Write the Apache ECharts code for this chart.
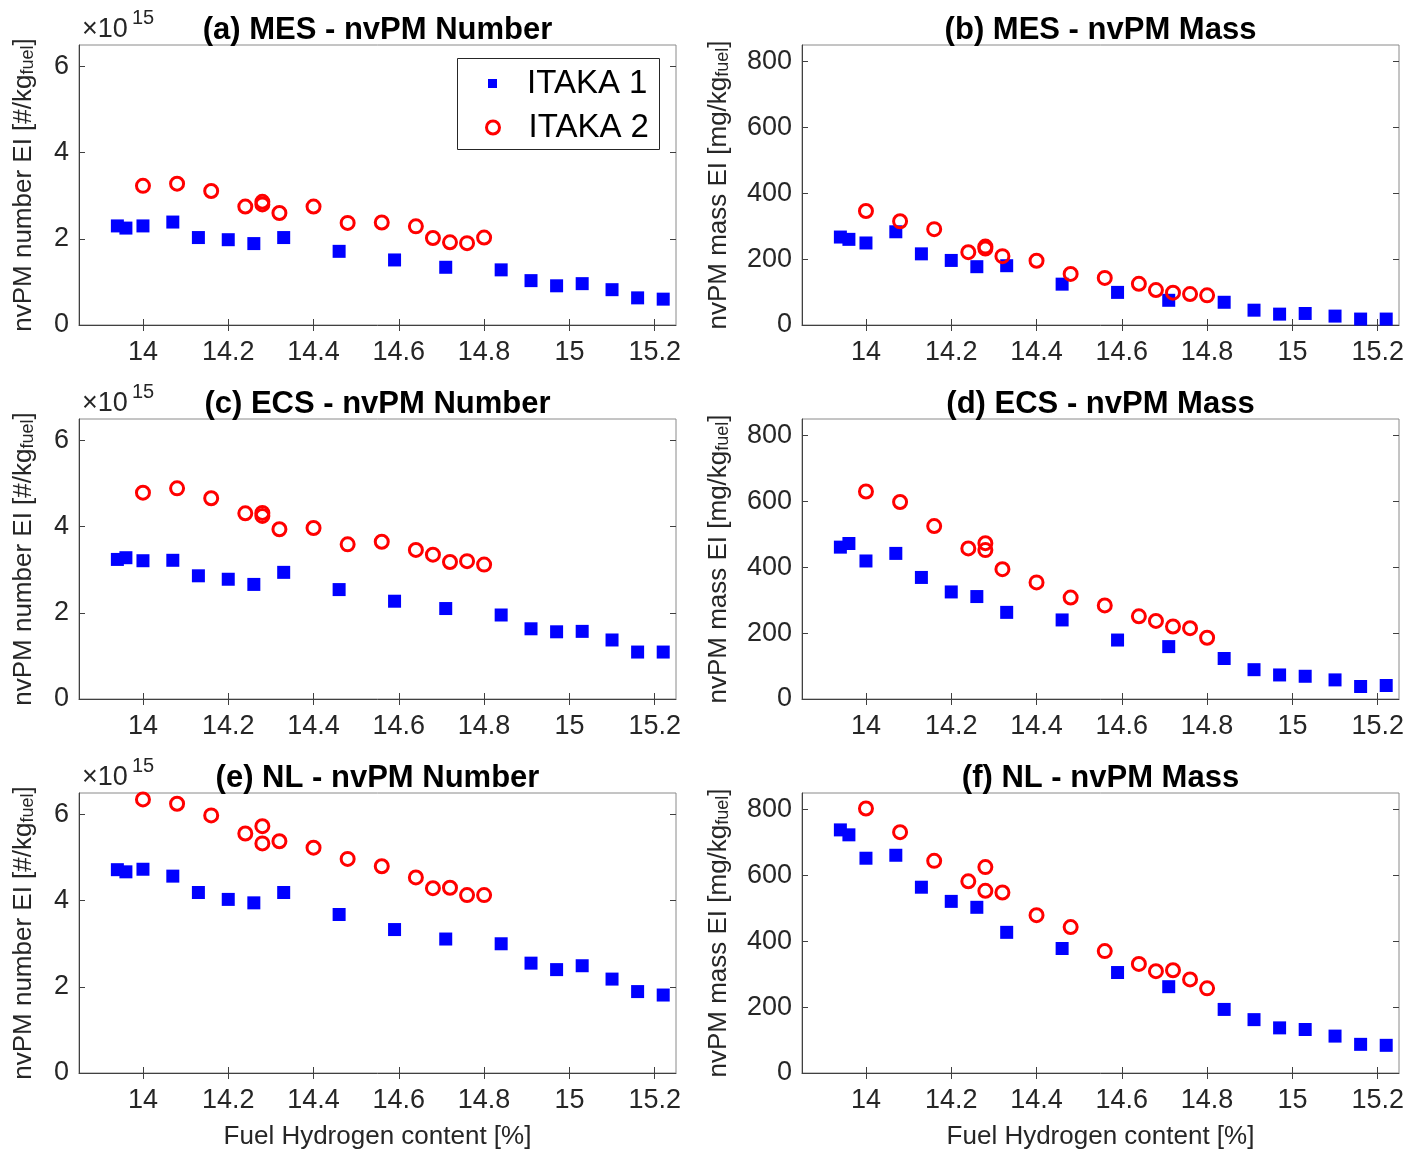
<!DOCTYPE html>
<html>
<head>
<meta charset="utf-8">
<script src="https://cdn.jsdelivr.net/npm/echarts@6/dist/echarts.min.js"></script>
<style>
html,body{margin:0;padding:0;background:#fff;}
#chart{width:1424px;height:1151px;}
</style>
</head>
<body>
<div id="chart"></div>
<script>
// ---------- DATA ----------
const seriesNames = ['ITAKA 1', 'ITAKA 2'];
const xItaka1 = [13.94, 13.96, 14.00, 14.07, 14.13, 14.20, 14.26, 14.33, 14.46, 14.59, 14.71, 14.84, 14.91, 14.97, 15.03, 15.10, 15.16, 15.22];
const xItaka2 = [14.00, 14.08, 14.16, 14.24, 14.28, 14.28, 14.32, 14.40, 14.48, 14.56, 14.64, 14.68, 14.72, 14.76, 14.80];

// nvPM number EI in units of 1e15 #/kg_fuel ; nvPM mass EI in mg/kg_fuel
const mesNum1  = [2.30, 2.25, 2.30, 2.39, 2.03, 1.98, 1.89, 2.03, 1.71, 1.51, 1.34, 1.28, 1.03, 0.91, 0.96, 0.82, 0.63, 0.60];
const mesNum2  = [3.23, 3.28, 3.11, 2.75, 2.86, 2.80, 2.60, 2.75, 2.37, 2.38, 2.29, 2.02, 1.92, 1.90, 2.03];
const mesMass1 = [267, 260, 249, 283, 216, 196, 177, 180, 124, 99, 75, 69, 45, 33, 35, 27, 18, 18];
const mesMass2 = [346, 315, 291, 221, 238, 232, 209, 195, 155, 143, 125, 106, 98, 94, 90];
const ecsNum1  = [3.24, 3.28, 3.21, 3.22, 2.86, 2.78, 2.66, 2.94, 2.54, 2.27, 2.10, 1.95, 1.63, 1.56, 1.57, 1.37, 1.09, 1.09];
const ecsNum2  = [4.79, 4.89, 4.66, 4.31, 4.32, 4.25, 3.94, 3.97, 3.59, 3.65, 3.46, 3.35, 3.18, 3.20, 3.12];
const ecsMass1 = [461, 472, 419, 442, 369, 325, 311, 263, 240, 179, 159, 123, 89, 73, 69, 58, 38, 41];
const ecsMass2 = [630, 598, 525, 457, 473, 452, 394, 354, 308, 284, 251, 237, 220, 215, 186];
const nlNum1   = [4.72, 4.67, 4.73, 4.57, 4.19, 4.03, 3.95, 4.19, 3.68, 3.33, 3.11, 3.00, 2.55, 2.40, 2.49, 2.18, 1.89, 1.81];
const nlNum2   = [6.35, 6.25, 5.98, 5.56, 5.73, 5.33, 5.38, 5.23, 4.97, 4.80, 4.54, 4.29, 4.30, 4.13, 4.13];
const nlMass1  = [738, 723, 652, 661, 564, 521, 503, 427, 378, 305, 262, 193, 162, 137, 132, 112, 87, 84];
const nlMass2  = [803, 731, 644, 582, 625, 553, 548, 479, 443, 370, 331, 309, 312, 284, 257];

const panelTitles = ['(a) MES - nvPM Number', '(b) MES - nvPM Mass', '(c) ECS - nvPM Number', '(d) ECS - nvPM Mass', '(e) NL - nvPM Number', '(f) NL - nvPM Mass'];
const xTickValues = [14, 14.2, 14.4, 14.6, 14.8, 15, 15.2];
const xTickLabels = ['14', '14.2', '14.4', '14.6', '14.8', '15', '15.2'];
const numTickValues = [0, 2, 4, 6];
const numTickLabels = ['0', '2', '4', '6'];
const massTickValues = [0, 200, 400, 600, 800];
const massTickLabels = ['0', '200', '400', '600', '800'];
const xAxisName = 'Fuel Hydrogen content [%]';
const numAxisName = '{m|nvPM number EI [#/kg}{s|fuel}{m|]}';
const massAxisName = '{m|nvPM mass EI [mg/kg}{s|fuel}{m|]}';
const exponentBase = '\u00D710';
const exponentPower = '15';

// ---------- LAYOUT ----------
const FONT = '"Liberation Sans", Arial, Helvetica, sans-serif';
const TXT = '#262626';
const colLeft = [79, 802];
const rowTop = [45, 419, 793];
const gridW = 597, gridH = 280;
const xMin = 13.85, xMax = 15.25;

const panels = [
  { y1: mesNum1, y2: mesNum2, kind: 'num' },
  { y1: mesMass1, y2: mesMass2, kind: 'mass' },
  { y1: ecsNum1, y2: ecsNum2, kind: 'num' },
  { y1: ecsMass1, y2: ecsMass2, kind: 'mass' },
  { y1: nlNum1, y2: nlNum2, kind: 'num' },
  { y1: nlMass1, y2: nlMass2, kind: 'mass' }
];

function labelFor(values, labels) {
  return function (v) {
    const i = values.findIndex(t => Math.abs(t - v) < 1e-6);
    return i >= 0 ? labels[i] : '';
  };
}

const grids = [], xAxes = [], yAxes = [], series = [], titles = [], graphics = [];

panels.forEach((p, g) => {
  const col = g % 2, row = Math.floor(g / 2);
  const left = colLeft[col], top = rowTop[row];
  grids.push({ left: left, top: top, width: gridW, height: gridH, show: true, borderColor: '#8a8a8a', borderWidth: 1, backgroundColor: 'transparent' });

  const isNum = p.kind === 'num';
  const yTicks = isNum ? numTickValues : massTickValues;
  const yLabels = isNum ? numTickLabels : massTickLabels;
  const yMax = isNum ? 6.5 : 850;

  // bottom x axis
  xAxes.push({
    gridIndex: g, type: 'value', min: xMin, max: xMax, position: 'bottom',
    axisLine: { show: true, onZero: false, lineStyle: { color: '#404040', width: 1 } },
    axisTick: { show: true, inside: true, length: 6, customValues: xTickValues, lineStyle: { color: '#404040' } },
    axisLabel: { show: true, customValues: xTickValues, formatter: labelFor(xTickValues, xTickLabels), fontSize: 27, color: TXT, fontFamily: FONT, margin: 14 },
    splitLine: { show: false },
    name: row === 2 ? xAxisName : '', nameLocation: 'middle', nameGap: 51,
    nameTextStyle: { fontSize: 26, color: TXT, fontFamily: FONT }
  });
  // top x axis (ticks only)
  xAxes.push({
    gridIndex: g, type: 'value', min: xMin, max: xMax, position: 'top',
    axisLine: { show: false },
    axisTick: { show: true, inside: true, length: 6, customValues: xTickValues, lineStyle: { color: '#404040' } },
    axisLabel: { show: false }, splitLine: { show: false }
  });
  // left y axis
  yAxes.push({
    gridIndex: g, type: 'value', min: 0, max: yMax, position: 'left',
    axisLine: { show: true, onZero: false, lineStyle: { color: '#404040', width: 1 } },
    axisTick: { show: true, inside: true, length: 6, customValues: yTicks, lineStyle: { color: '#404040' } },
    axisLabel: { show: true, customValues: yTicks, formatter: labelFor(yTicks, yLabels), fontSize: 27, color: TXT, fontFamily: FONT, margin: 10 },
    splitLine: { show: false },
    name: isNum ? numAxisName : massAxisName, nameLocation: 'middle', nameRotate: 90,
    nameGap: isNum ? 42 : 70,
    nameTextStyle: {
      fontFamily: FONT, color: TXT,
      rich: {
        m: { fontSize: 26, lineHeight: 26, color: TXT, fontFamily: FONT, verticalAlign: 'top' },
        s: { fontSize: 18, lineHeight: 18, color: TXT, fontFamily: FONT, verticalAlign: 'bottom', padding: [17, 0, 0, 0] }
      }
    }
  });
  // right y axis (ticks only)
  yAxes.push({
    gridIndex: g, type: 'value', min: 0, max: yMax, position: 'right',
    axisLine: { show: false },
    axisTick: { show: true, inside: true, length: 6, customValues: yTicks, lineStyle: { color: '#404040' } },
    axisLabel: { show: false }, splitLine: { show: false }
  });

  series.push({
    name: seriesNames[0], type: 'scatter', xAxisIndex: 2 * g, yAxisIndex: 2 * g,
    symbol: 'rect', symbolSize: 13,
    itemStyle: { color: '#0000ff', opacity: 1 },
    data: xItaka1.map((x, i) => [x, p.y1[i]]),
    emphasis: { disabled: true }, z: 2
  });
  series.push({
    name: seriesNames[1], type: 'scatter', xAxisIndex: 2 * g, yAxisIndex: 2 * g,
    symbol: 'circle', symbolSize: 13,
    itemStyle: { color: 'rgba(0,0,0,0)', borderColor: '#ff0000', borderWidth: 3, opacity: 1 },
    data: xItaka2.map((x, i) => [x, p.y2[i]]),
    emphasis: { disabled: true }, z: 3
  });

  titles.push({
    text: panelTitles[g], left: left + gridW / 2 - 5, top: top - 35, textAlign: 'center',
    textStyle: { fontSize: 31, fontWeight: 'bold', color: '#000', fontFamily: FONT }
  });

  if (isNum) {
    titles.push({
      text: exponentBase, left: left + 3, top: top - 29, padding: 0,
      textStyle: { fontSize: 27, fontWeight: 'normal', color: TXT, fontFamily: FONT }
    });
    titles.push({
      text: exponentPower, left: left + 53, top: top - 37, padding: 0,
      textStyle: { fontSize: 20, fontWeight: 'normal', color: TXT, fontFamily: FONT }
    });
  }
});

// legend box
graphics.push({
  type: 'rect', left: 457, top: 58, z: 50,
  shape: { width: 202, height: 91 },
  style: { fill: '#ffffff', stroke: '#262626', lineWidth: 1 }
});

const option = {
  backgroundColor: '#ffffff',
  animation: false,
  textStyle: { fontFamily: FONT },
  title: titles,
  grid: grids,
  xAxis: xAxes,
  yAxis: yAxes,
  series: series,
  graphic: graphics,
  legend: [
    {
      data: [{ name: seriesNames[0], icon: 'rect', itemStyle: { color: '#0000ff' } }],
      left: 488, top: 67, padding: 0, itemWidth: 9, itemHeight: 9, z: 60,
      selectedMode: false,
      textStyle: { fontSize: 33, color: '#000', fontFamily: FONT, lineHeight: 33, padding: [0, 0, 0, 25] }
    },
    {
      data: [{ name: seriesNames[1], icon: 'circle', itemStyle: { color: 'rgba(0,0,0,0)', borderColor: '#ff0000', borderWidth: 3 } }],
      left: 485, top: 111, padding: 0, itemWidth: 13, itemHeight: 13, z: 60,
      selectedMode: false,
      textStyle: { fontSize: 33, color: '#000', fontFamily: FONT, lineHeight: 33, padding: [0, 0, 0, 24] }
    }
  ]
};

const chart = echarts.init(document.getElementById('chart'), null, { renderer: 'canvas' });
chart.setOption(option);
</script>
</body>
</html>
